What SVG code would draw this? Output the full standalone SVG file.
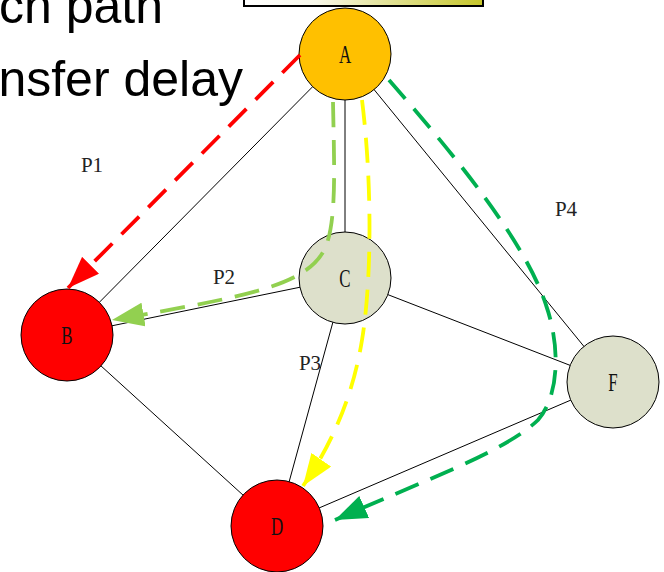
<svg xmlns="http://www.w3.org/2000/svg" width="664" height="572" viewBox="0 0 664 572">
  <style>
    .edge { stroke: #000; stroke-width: 1; fill: none; }
    .node { stroke: #000; stroke-width: 1; }
    .nlabel { font-family: "Liberation Serif", serif; font-size: 26px; fill: #111; text-anchor: middle; }
    .plabel { font-family: "Liberation Serif", serif; font-size: 21px; fill: #222; text-anchor: middle; }
    .title { font-family: "Liberation Sans", Arial, sans-serif; font-size: 50px; fill: #000; text-anchor: end; }
    .path { fill: none; stroke-width: 3.8; stroke-dasharray: 25 13; }
  </style>
  <defs>
    <linearGradient id="boxFill" x1="0" y1="0" x2="1" y2="0">
      <stop offset="0" stop-color="#ffffff"/>
      <stop offset="0.3" stop-color="#f8f8ea"/>
      <stop offset="1" stop-color="#c6c62a"/>
    </linearGradient>
    <marker id="headRed" markerUnits="userSpaceOnUse" markerWidth="32" markerHeight="24" refX="32" refY="12" orient="auto">
      <path d="M0,0 L32,12 L0,24 z" fill="#ff0000"/>
    </marker>
    <marker id="headLime" markerUnits="userSpaceOnUse" markerWidth="32" markerHeight="24" refX="32" refY="12" orient="auto">
      <path d="M0,0 L32,12 L0,24 z" fill="#92d050"/>
    </marker>
    <marker id="headYellow" markerUnits="userSpaceOnUse" markerWidth="32" markerHeight="24" refX="32" refY="12" orient="auto">
      <path d="M0,0 L32,12 L0,24 z" fill="#ffff00"/>
    </marker>
    <marker id="headGreen" markerUnits="userSpaceOnUse" markerWidth="32" markerHeight="24" refX="32" refY="12" orient="auto">
      <path d="M0,0 L32,12 L0,24 z" fill="#00b050"/>
    </marker>
  </defs>

  <!-- heading text, partly outside the frame -->
  <text class="title" x="163" y="23">ch path</text>
  <text class="title" x="243" y="96">nsfer delay</text>

  <!-- legend box clipped at the top edge -->
  <rect x="244" y="-30" width="239" height="36" fill="url(#boxFill)" stroke="#000" stroke-width="2"/>

  <!-- network links -->
  <g id="links">
    <line class="edge" x1="345" y1="54" x2="67" y2="335"/>
    <line class="edge" x1="345" y1="54" x2="345" y2="278"/>
    <line class="edge" x1="345" y1="54" x2="613" y2="382"/>
    <line class="edge" x1="67" y1="335" x2="345" y2="278"/>
    <line class="edge" x1="67" y1="335" x2="277" y2="526"/>
    <line class="edge" x1="345" y1="278" x2="277" y2="526"/>
    <line class="edge" x1="345" y1="278" x2="613" y2="382"/>
    <line class="edge" x1="613" y1="382" x2="277" y2="526"/>
  </g>

  <!-- nodes -->
  <g id="node-A">
    <circle class="node" cx="345" cy="54" r="46" fill="#ffc000"/>
    <text class="nlabel" transform="translate(345,63) scale(0.65,1)">A</text>
  </g>
  <g id="node-C">
    <circle class="node" cx="345" cy="278" r="46" fill="#dde0cb"/>
    <text class="nlabel" transform="translate(345,287) scale(0.65,1)">C</text>
  </g>
  <g id="node-B">
    <circle class="node" cx="67" cy="335" r="46" fill="#ff0000"/>
    <text class="nlabel" transform="translate(67,344) scale(0.65,1)">B</text>
  </g>
  <g id="node-D">
    <circle class="node" cx="277" cy="526" r="46" fill="#ff0000"/>
    <text class="nlabel" transform="translate(277,535) scale(0.65,1)">D</text>
  </g>
  <g id="node-F">
    <circle class="node" cx="613" cy="382" r="46" fill="#dde0cb"/>
    <text class="nlabel" transform="translate(613,391) scale(0.65,1)">F</text>
  </g>

  <!-- routed paths -->
  <g id="paths">
    <path class="path" stroke="#ff0000" d="M300,55 L68,288" marker-end="url(#headRed)"/>
    <path class="path" stroke="#92d050" d="M333,102 C334,160 337,218 326,246 C310,285 250,296 112,320" marker-end="url(#headLime)"/>
    <path class="path" stroke="#ffff00" d="M362,100 C372,180 372,280 362,340 C354,390 335,440 303,486" marker-end="url(#headYellow)"/>
    <path class="path" stroke="#00b050" d="M389,80 C450,150 525,240 546,305 C560,345 560,395 538,420 C505,452 420,482 335,520" marker-end="url(#headGreen)"/>
  </g>

  <!-- path labels -->
  <g id="path-labels">
    <text class="plabel" x="92" y="172">P1</text>
    <text class="plabel" x="224" y="284">P2</text>
    <text class="plabel" x="310" y="370">P3</text>
    <text class="plabel" x="566" y="216">P4</text>
  </g>
</svg>
